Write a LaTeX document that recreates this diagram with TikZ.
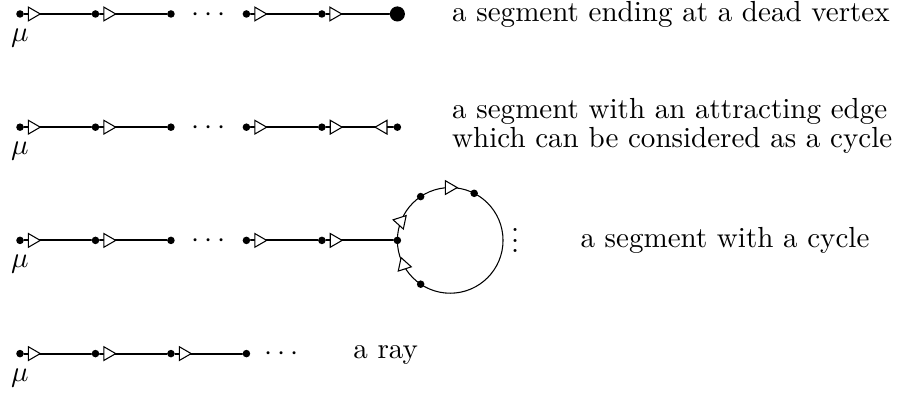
\documentclass[11pt,tikz,border=0pt]{standalone}
\usetikzlibrary{positioning,shapes.geometric}

\begin{document}
\begin{tikzpicture}[line cap=round,
    vtx/.style={circle,fill,inner sep=0pt,minimum size=1mm},
    dead/.style={circle,fill,inner sep=0pt,minimum size=2mm},
    tri/.style={regular polygon,regular polygon sides=3,draw,fill=white,
      line width=0.4pt,inner sep=0pt,minimum size=2.1mm},
    fwd/.style={tri,pos=0.12,rotate=-90},
    bwd/.style={tri,pos=0.85,rotate=90},
    edge/.style={line width=0.7pt},
    hdots/.style={anchor=base,inner sep=0pt,yshift=-0.97mm},
    mu/.style={below=1.35mm of #1,inner sep=0pt},
    lbl/.style={anchor=west,align=left,inner sep=0pt}]
  \useasboundingbox (-0.265,0.185) rectangle (11.62,-5.03);

  % a segment ending at a dead vertex
  \foreach \i in {0,...,4} \node[vtx] (a\i) at (\i,0) {};
  \node[dead] (a5) at (5,0) {};
  \draw[edge] (a0) -- node[fwd] {} (a1) -- node[fwd] {} (a2);
  \draw[edge] (a3) -- node[fwd] {} (a4) -- node[fwd] {} (a5);
  \node[hdots] (a-dots) at (2.5,0) {$\cdots$};
  \node[mu=a0] (a-mu) {$\mu$};
  \node[lbl] (a-txt) at (5.72,0) {a segment ending at a dead vertex};

  % a segment with an attracting edge
  \foreach \i in {0,...,5} \node[vtx] (b\i) at (\i,-1.5) {};
  \draw[edge,line width=0.95pt] (b0) -- node[fwd] {} (b1) -- node[fwd] {} (b2);
  \draw[edge,line width=0.95pt] (b3) -- node[fwd] {} (b4) -- node[fwd] {} node[bwd] {} (b5);
  \node[hdots] (b-dots) at (2.5,-1.5) {$\cdots$};
  \node[mu=b0] (b-mu) {$\mu$};
  \node[lbl] (b-txt) at (5.72,-1.483)
    {a segment with an attracting edge\\[-2.6pt] which can be considered as a cycle};

  % a segment with a cycle
  \coordinate (o) at (5.7,-3);
  \draw[line width=0.4pt] (o) circle (0.7);
  \foreach \i in {0,...,5} \node[vtx] (c\i) at (\i,-3) {};
  \foreach \a/\n in {124/6,63/7,236/8}
    \node[vtx] (c\n) at ([shift={(\a:0.7)}]o) {};
  \draw[edge] (c0) -- node[fwd] {} (c1) -- node[fwd] {} (c2);
  \draw[edge] (c3) -- node[fwd] {} (c4) -- node[fwd] {} (c5);
  \node[tri,rotate=-90] (c-t1) at ([shift={(91:0.7)}]o) {};
  \node[tri,rotate=78] (c-t2) at ([shift={(159:0.7)}]o) {};
  \node[tri,rotate=-102] (c-t3) at ([shift={(208:0.7)}]o) {};
  \node[hdots] (c-dots) at (2.5,-3) {$\cdots$};
  \node[anchor=base,inner sep=0pt] (c-vdots) at (6.56,-3.162) {$\vdots$};
  \node[mu=c0] (c-mu) {$\mu$};
  \node[lbl] (c-txt) at (7.42,-3) {a segment with a cycle};

  % a ray
  \foreach \i in {0,...,3} \node[vtx] (d\i) at (\i,-4.5) {};
  \draw[edge] (d0) -- node[fwd] {} (d1) -- node[fwd] {} (d2) -- node[fwd] {} (d3);
  \node[hdots] (d-dots) at (3.47,-4.5) {$\cdots$};
  \node[mu=d0] (d-mu) {$\mu$};
  \node[lbl] (d-txt) at (4.41,-4.52) {a ray};
\end{tikzpicture}
\end{document}
